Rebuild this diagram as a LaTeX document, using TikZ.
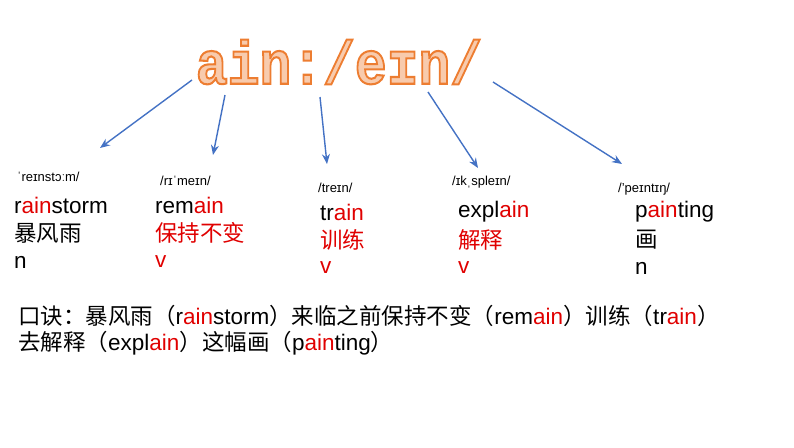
\documentclass[tikz,border=0pt]{standalone}
\usepackage{fontspec}
\setmainfont{Liberation Sans}
\newfontfamily\cjk{Noto Sans CJK SC}
\newfontfamily\monob{Liberation Mono}[BoldFont={* Bold}]
\usetikzlibrary{arrows.meta}
\definecolor{ared}{HTML}{E00000}
\definecolor{ablue}{HTML}{4472C4}
\definecolor{ofill}{HTML}{F8CBAD}
\definecolor{oline}{HTML}{ED7D31}
\newcommand{\R}[1]{\textcolor{ared}{#1}}
\begin{document}
\begin{tikzpicture}[x=1pt,y=-1pt,
  ph/.style={anchor=west,font=\fontsize{13}{15}\selectfont,inner sep=0},
  wd/.style={anchor=west,font=\fontsize{22.5}{26}\selectfont,inner sep=0},
  arr/.style={draw=ablue,line width=1.4pt,-{Stealth[length=10pt,width=8pt]}}]
\useasboundingbox (0,0) rectangle (794,447);
\node[inner sep=0,anchor=center,yscale=1.15] (title) at (339,62)
  {\monob\bfseries\fontsize{53}{60}\selectfont\special{pdf:literal 2 Tr 1.8 w 0.929 0.490 0.192 RG 0.973 0.796 0.678 rg}ain:/eɪn/\special{pdf:literal 0 Tr}};
\coordinate (s1) at (192,80); \coordinate (e1) at (100,148);
\coordinate (s2) at (225,95); \coordinate (e2) at (213,155);
\coordinate (s3) at (320,97); \coordinate (e3) at (327,164);
\coordinate (s4) at (428,92); \coordinate (e4) at (478,168);
\coordinate (s5) at (493,82); \coordinate (e5) at (622,164);
\foreach \i in {1,...,5}{\draw[arr] (s\i) -- (e\i);}
% column 1
\node[ph] (p1) at (17,177) {ˈreɪnstɔːm/};
\node[wd] (w1) at (14,205) {r\R{ain}storm};
\node[wd] (c1) at (14,233) {\cjk 暴风雨};
\node[wd] (t1) at (14,262) {n};
% column 2
\node[ph] (p2) at (160,181) {/rɪˈmeɪn/};
\node[wd] (w2) at (155,205) {rem\R{ain}};
\node[wd] (c2) at (155,233) {\cjk\color{ared}保持不变};
\node[wd,ared] (t2) at (155,262) {v};
% column 3
\node[ph] (p3) at (318,188) {/treɪn/};
\node[wd] (w3) at (320,212) {tr\R{ain}};
\node[wd] (c3) at (320,240) {\cjk\color{ared}训练};
\node[wd,ared] (t3) at (320,268) {v};
% column 4
\node[ph] (p4) at (452,182) {/ɪkˌspleɪn/};
\node[wd] (w4) at (458,212) {expl\R{ain}};
\node[wd] (c4) at (458,240) {\cjk\color{ared}解释};
\node[wd,ared] (t4) at (458,268) {v};
% column 5
\node[ph] (p5) at (618,189) {/'peɪntɪŋ/};
\node[wd] (w5) at (635,212) {p\R{ain}ting};
\node[wd] (c5) at (635,240) {\cjk 画};
\node[wd] (t5) at (635,268) {n};
% bottom
\node[wd] (b1) at (18,316) {{\cjk 口诀：暴风雨（}r\R{ain}storm{\cjk ）来临之前保持不变（}rem\R{ain}{\cjk ）训练（}tr\R{ain}{\cjk ）}};
\node[wd] (b2) at (18,343) {{\cjk 去解释（}expl\R{ain}{\cjk ）这幅画（}p\R{ain}ting{\cjk ）}};
\end{tikzpicture}
\end{document}
